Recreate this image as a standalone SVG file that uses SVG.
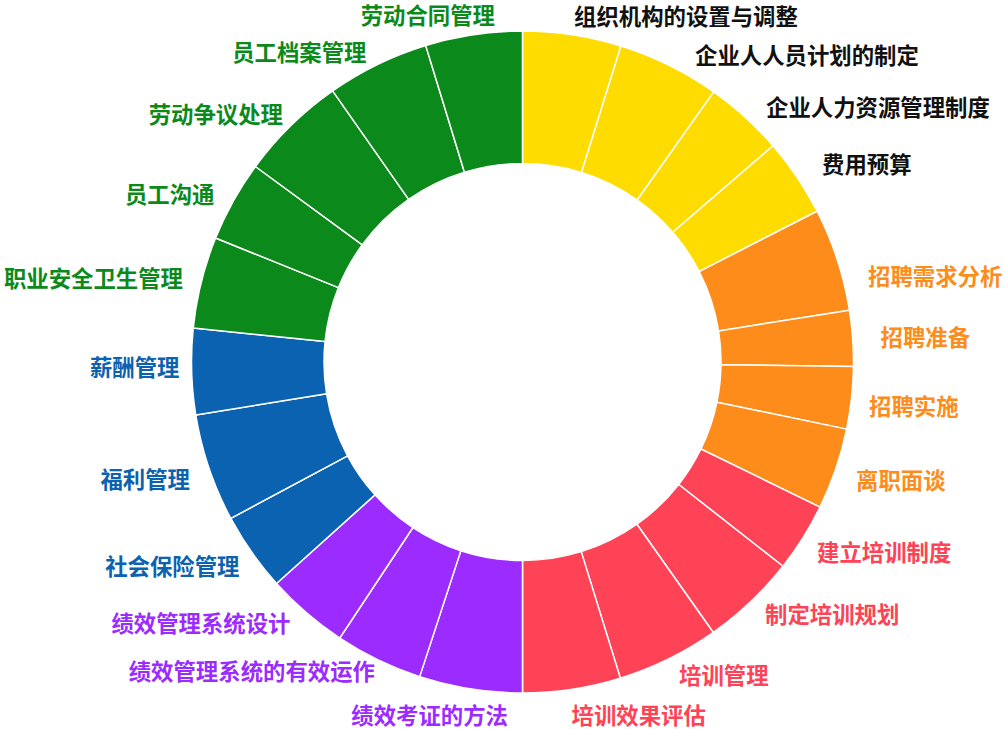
<svg xmlns="http://www.w3.org/2000/svg" width="1004" height="729" viewBox="0 0 1004 729">
<style>
.s{stroke:#fff;stroke-width:1.5;stroke-linejoin:round}
.y{fill:#ffdc00}.o{fill:#fd8c1b}.r{fill:#fe4356}.p{fill:#9b2bff}.b{fill:#0a62b0}.g{fill:#0b8a1b}
text{font-family:"Noto Sans CJK SC","Noto Sans",sans-serif;font-size:22.4px;font-weight:bold;dominant-baseline:central}
.ty{fill:#111}.to{fill:#fd8c1b}.tr{fill:#fe4356}.tp{fill:#9b2bff}.tb{fill:#0a62b0}.tg{fill:#0b8a1b}
.L{text-anchor:end}
</style>
<rect width="1004" height="729" fill="#fff"/>
<g id="slices">
<g id="n0"><path class="s y" d="M522.5,31 A331,331 0 0 1 620.93,45.97 L581.53,172.48 A198.5,198.5 0 0 0 522.5,163.5 Z"/><text class="ty" x="574" y="15">组织机构的设置与调整</text></g>
<g id="n1"><path class="s y" d="M620.93,45.97 A331,331 0 0 1 713.77,91.86 L637.21,200 A198.5,198.5 0 0 0 581.53,172.48 Z"/><text class="ty" x="695" y="54">企业人人员计划的制定</text></g>
<g id="n2"><path class="s y" d="M713.77,91.86 A331,331 0 0 1 773.07,145.72 L672.76,232.3 A198.5,198.5 0 0 0 637.21,200 Z"/><text class="ty" x="766" y="106">企业人力资源管理制度</text></g>
<g id="n3"><path class="s y" d="M773.07,145.72 A331,331 0 0 1 817.16,211.22 L699.21,271.58 A198.5,198.5 0 0 0 672.76,232.3 Z"/><text class="ty" x="822" y="163">费用预算</text></g>
<g id="n4"><path class="s o" d="M817.16,211.22 A331,331 0 0 1 849.43,310.22 L718.56,330.95 A198.5,198.5 0 0 0 699.21,271.58 Z"/><text class="to" x="868" y="274.5">招聘需求分析</text></g>
<g id="n5"><path class="s o" d="M849.43,310.22 A331,331 0 0 1 853.47,366.62 L720.98,364.77 A198.5,198.5 0 0 0 718.56,330.95 Z"/><text class="to" x="880.5" y="336">招聘准备</text></g>
<g id="n6"><path class="s o" d="M853.47,366.62 A331,331 0 0 1 846.62,429.12 L716.87,402.25 A198.5,198.5 0 0 0 720.98,364.77 Z"/><text class="to" x="869" y="405">招聘实施</text></g>
<g id="n7"><path class="s o" d="M846.62,429.12 A331,331 0 0 1 820,507.1 L700.91,449.02 A198.5,198.5 0 0 0 716.87,402.25 Z"/><text class="to" x="856" y="479">离职面谈</text></g>
<g id="n8"><path class="s r" d="M820,507.1 A331,331 0 0 1 782.98,566.24 L678.71,484.48 A198.5,198.5 0 0 0 700.91,449.02 Z"/><text class="tr" x="817" y="551">建立培训制度</text></g>
<g id="n9"><path class="s r" d="M782.98,566.24 A331,331 0 0 1 713.3,632.47 L636.92,524.2 A198.5,198.5 0 0 0 678.71,484.48 Z"/><text class="tr" x="765" y="613">制定培训规划</text></g>
<g id="n10"><path class="s r" d="M713.3,632.47 A331,331 0 0 1 620.38,678.2 L581.2,551.62 A198.5,198.5 0 0 0 636.92,524.2 Z"/><text class="tr" x="679" y="674">培训管理</text></g>
<g id="n11"><path class="s r" d="M620.38,678.2 A331,331 0 0 1 522.5,693 L522.5,560.5 A198.5,198.5 0 0 0 581.2,551.62 Z"/><text class="tr" x="571.5" y="713.5">培训效果评估</text></g>
<g id="n12"><path class="s p" d="M522.5,693 A331,331 0 0 1 419.67,676.62 L460.83,550.68 A198.5,198.5 0 0 0 522.5,560.5 Z"/><text class="tp L" x="508" y="714">绩效考证的方法</text></g>
<g id="n13"><path class="s p" d="M419.67,676.62 A331,331 0 0 1 339.81,638.02 L412.94,527.53 A198.5,198.5 0 0 0 460.83,550.68 Z"/><text class="tp L" x="375" y="670">绩效管理系统的有效运作</text></g>
<g id="n14"><path class="s p" d="M339.81,638.02 A331,331 0 0 1 276.52,583.48 L374.99,494.82 A198.5,198.5 0 0 0 412.94,527.53 Z"/><text class="tp L" x="290.5" y="621.7">绩效管理系统设计</text></g>
<g id="n15"><path class="s b" d="M276.52,583.48 A331,331 0 0 1 230.79,518.41 L347.56,455.8 A198.5,198.5 0 0 0 374.99,494.82 Z"/><text class="tb L" x="239.5" y="565">社会保险管理</text></g>
<g id="n16"><path class="s b" d="M230.79,518.41 A331,331 0 0 1 195.76,414.92 L326.55,393.74 A198.5,198.5 0 0 0 347.56,455.8 Z"/><text class="tb L" x="190" y="478">福利管理</text></g>
<g id="n17"><path class="s b" d="M195.76,414.92 A331,331 0 0 1 193.25,327.98 L325.05,341.6 A198.5,198.5 0 0 0 326.55,393.74 Z"/><text class="tb L" x="179.5" y="366">薪酬管理</text></g>
<g id="n18"><path class="s g" d="M193.25,327.98 A331,331 0 0 1 215.6,238 L338.45,287.64 A198.5,198.5 0 0 0 325.05,341.6 Z"/><text class="tg L" x="183" y="276.7">职业安全卫生管理</text></g>
<g id="n19"><path class="s g" d="M215.6,238 A331,331 0 0 1 255.4,166.51 L362.32,244.77 A198.5,198.5 0 0 0 338.45,287.64 Z"/><text class="tg L" x="214.5" y="193">员工沟通</text></g>
<g id="n20"><path class="s g" d="M255.4,166.51 A331,331 0 0 1 332.65,90.86 L408.64,199.4 A198.5,198.5 0 0 0 362.32,244.77 Z"/><text class="tg L" x="283" y="113">劳动争议处理</text></g>
<g id="n21"><path class="s g" d="M332.65,90.86 A331,331 0 0 1 425.73,45.46 L464.46,172.17 A198.5,198.5 0 0 0 408.64,199.4 Z"/><text class="tg L" x="366.5" y="51">员工档案管理</text></g>
<g id="n22"><path class="s g" d="M425.73,45.46 A331,331 0 0 1 522.5,31 L522.5,163.5 A198.5,198.5 0 0 0 464.46,172.17 Z"/><text class="tg L" x="495" y="13.6">劳动合同管理</text></g>
</g>
<g id="connectors"></g>
</svg>
